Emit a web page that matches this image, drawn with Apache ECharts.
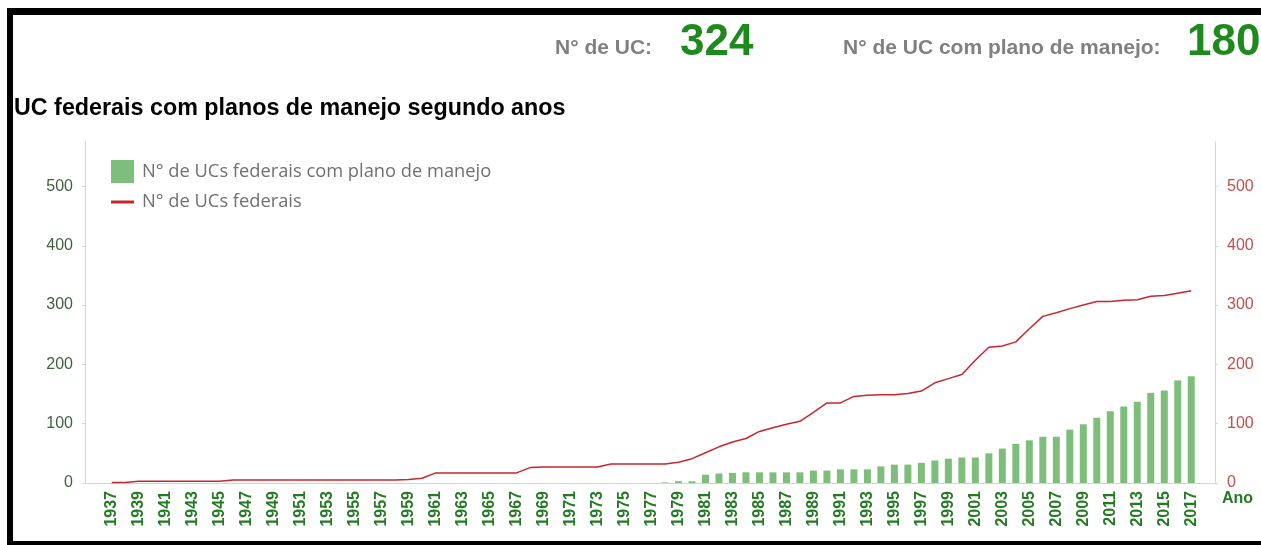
<!DOCTYPE html>
<html>
<head>
<meta charset="utf-8">
<script src="https://cdn.jsdelivr.net/npm/echarts@6/dist/echarts.min.js"></script>
<style>
  html, body { margin: 0; padding: 0; background: #fff; }
  #main { width: 1261px; height: 545px; }
</style>
</head>
<body>
<div id="main"></div>
<script>
// anos do eixo X
var anos = [
  '1937','1938','1939','1940','1941','1942','1943','1944','1945','1946',
  '1947','1948','1949','1950','1951','1952','1953','1954','1955','1956',
  '1957','1958','1959','1960','1961','1962','1963','1964','1965','1966',
  '1967','1968','1969','1970','1971','1972','1973','1974','1975','1976',
  '1977','1978','1979','1980','1981','1982','1983','1984','1985','1986',
  '1987','1988','1989','1990','1991','1992','1993','1994','1995','1996',
  '1997','1998','1999','2000','2001','2002','2003','2004','2005','2006',
  '2007','2008','2009','2010','2011','2012','2013','2014','2015','2016',
  '2017'
];

// N° de UCs federais com plano de manejo (barras)
var comPlano = [
  0, 0, 0, 0, 0, 0, 0, 0, 0, 0,
  0, 0, 0, 0, 0, 0, 0, 0, 0, 0,
  0, 0, 0, 0, 0, 0, 0, 0, 0, 0,
  0, 0, 0, 0, 0, 0, 0, 0, 0, 0,
  0, 1, 3, 3, 14, 16, 17, 18, 18, 18,
  18, 18, 21, 21, 23, 23, 23, 28, 31, 31,
  34, 38, 41, 43, 43, 50, 58, 66, 72, 78,
  78, 90, 99, 110, 121, 129, 137, 152, 156, 173,
  180
];

// N° de UCs federais (linha)
var totalUC = [
  1, 1, 3, 3, 3, 3, 3, 3, 3, 5,
  5, 5, 5, 5, 5, 5, 5, 5, 5, 5,
  5, 5, 6, 8, 17, 17, 17, 17, 17, 17,
  17, 26, 27, 27, 27, 27, 27, 32, 32, 32,
  32, 32, 35, 41, 51, 61, 69, 75, 87, 93,
  99, 104, 119, 135, 135, 146, 148, 149, 149, 151,
  155, 169, 176, 183, 207, 229, 231, 238, 260, 281,
  287, 294, 300, 306, 306, 308, 309, 315, 316, 320,
  324
];

var totalAtual = '324';
var planoAtual = '180';

var verde = '#237a23';
var vermelho = '#c8262c';
var cinzaEixo = '#d4d4d4';
var fonte = 'Liberation Sans, Arial, sans-serif';

var myChart = echarts.init(document.getElementById('main'));

myChart.setOption({
  animation: false,
  title: [
    { text: 'N° de UC:', left: 555, top: 38, padding: 0,
      textStyle: { color: '#808080', fontSize: 21, fontWeight: 'bold', fontFamily: fonte } },
    { text: totalAtual, left: 680, top: 21, padding: 0,
      textStyle: { color: '#1e8a1e', fontSize: 44, fontWeight: 'bold', fontFamily: fonte } },
    { text: 'N° de UC com plano de manejo:', left: 843, top: 38, padding: 0,
      textStyle: { color: '#808080', fontSize: 21, fontWeight: 'bold', fontFamily: fonte } },
    { text: planoAtual, left: 1187, top: 21, padding: 0,
      textStyle: { color: '#1e8a1e', fontSize: 44, fontWeight: 'bold', fontFamily: fonte } },
    { text: 'UC federais com planos de manejo segundo anos', left: 14, top: 97, padding: 0,
      textStyle: { color: '#000', fontSize: 23.3, fontWeight: 'bold', fontFamily: fonte } }
  ],
  legend: {
    orient: 'vertical',
    left: 111, top: 160, padding: 0,
    itemWidth: 23, itemHeight: 23, itemGap: 10,
    symbolKeepAspect: true,
    textStyle: { color: '#707070', fontSize: 18.3, fontFamily: 'Open Sans', padding: [0, 0, 0, 3] },
    data: [
      { name: 'N° de UCs federais com plano de manejo', icon: 'rect' },
      { name: 'N° de UCs federais', icon: 'path://M0,0L23,0L23,3L0,3Z' }
    ]
  },
  grid: [
    { left: 85, right: 46, top: 142, bottom: 62 },
    { left: 105, right: 63, top: 142, bottom: 62 }
  ],
  xAxis: [
    {
      gridIndex: 0, type: 'category', data: anos,
      axisLine: { lineStyle: { color: cinzaEixo } },
      axisTick: { show: false }, axisLabel: { show: false }
    },
    {
      gridIndex: 1, type: 'category', data: anos,
      axisLine: { show: false }, axisTick: { show: false },
      axisLabel: { rotate: 90, interval: 1, margin: 8, color: verde,
        fontSize: 16, fontWeight: 'bold', fontFamily: fonte }
    }
  ],
  yAxis: [
    {
      gridIndex: 0, type: 'value', position: 'left', min: 0, max: 575, interval: 100,
      axisLine: { show: true, lineStyle: { color: cinzaEixo } },
      axisTick: { show: true, length: 3, lineStyle: { color: cinzaEixo } },
      splitLine: { show: false },
      axisLabel: { color: '#3f5f3f', fontSize: 16, margin: 12, showMaxLabel: false, fontFamily: fonte }
    },
    {
      gridIndex: 0, type: 'value', position: 'right', min: 0, max: 575, interval: 100,
      axisLine: { show: true, lineStyle: { color: cinzaEixo } },
      axisTick: { show: true, length: 3, lineStyle: { color: cinzaEixo } },
      splitLine: { show: false },
      axisLabel: { color: '#c0504d', fontSize: 16, margin: 12, showMaxLabel: false, fontFamily: fonte }
    },
    { gridIndex: 1, type: 'value', min: 0, max: 575, show: false },
    { gridIndex: 1, type: 'value', min: 0, max: 575, show: false }
  ],
  series: [
    {
      name: 'N° de UCs federais com plano de manejo',
      type: 'bar', xAxisIndex: 1, yAxisIndex: 2,
      barWidth: 7,
      itemStyle: { color: '#7dbf7a' },
      data: comPlano
    },
    {
      name: 'N° de UCs federais',
      type: 'line', xAxisIndex: 1, yAxisIndex: 3,
      symbol: 'none',
      color: vermelho,
      lineStyle: { color: vermelho, width: 1.5 },
      data: totalUC
    }
  ],
  graphic: [
    { type: 'rect', shape: { x: 7, y: 8, width: 1254, height: 7 }, style: { fill: '#000' } },
    { type: 'rect', shape: { x: 7, y: 8, width: 6, height: 537 }, style: { fill: '#000' } },
    { type: 'rect', shape: { x: 7, y: 541, width: 1254, height: 4 }, style: { fill: '#000' } },
    { type: 'text', left: 1222, top: 491,
      style: { text: 'Ano', fill: verde, font: 'bold 16px Liberation Sans' } }
  ]
});
</script>
</body>
</html>
